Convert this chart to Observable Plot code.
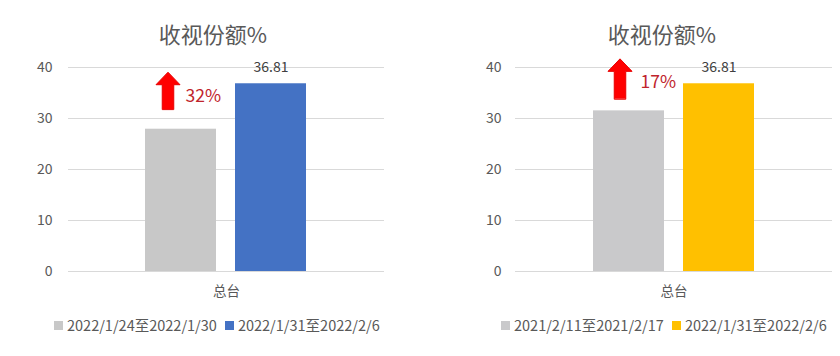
<!DOCTYPE html>
<html><head><meta charset="utf-8">
<script src="https://cdn.jsdelivr.net/npm/d3@7"></script>
<script src="https://cdn.jsdelivr.net/npm/@observablehq/plot@0.6"></script>
<style>
body{margin:0;background:#fff;width:840px;height:356px;overflow:hidden;position:relative;font-family:"Noto Sans CJK SC","Noto Sans",sans-serif}
.panel{position:absolute;top:0;width:420px;height:356px}
.title{position:absolute;top:17px;font-size:22px;color:#595959;transform:translateX(-50%);white-space:nowrap;line-height:32px}
.chart{position:absolute;top:55px;left:0}
.legend{position:absolute;top:315px;font-size:14.5px;color:#595959;display:flex;align-items:center;white-space:nowrap;line-height:20px}
.sw{display:inline-block;width:9px;height:9px;margin-right:4px}
.item{display:flex;align-items:center;margin-right:8px}
.chart svg [aria-label="fx-axis tick label"] text{font-size:13.5px}
</style></head><body>
<script>
const category = "总台";
const chartTitle = "收视份额%";
const leftSeries = ["2022/1/24至2022/1/30", "2022/1/31至2022/2/6"];
const leftValues = [27.9, 36.81];
const rightSeries = ["2021/2/11至2021/2/17", "2022/1/31至2022/2/6"];
const rightValues = [31.5, 36.81];
const yTicks = [0, 10, 20, 30, 40];
const leftColors = ["#c8c8c8", "#4472c4"];
const rightColors = ["#c9c9cb", "#ffc000"];

const fatArrow = {
  draw(ctx, l, r) {
    const hw = r, sw = r * 0.48, hh = 12.5;
    ctx.moveTo(-sw, 0);
    ctx.lineTo(-sw, -l + hh);
    ctx.lineTo(-hw, -l + hh);
    ctx.lineTo(0, -l);
    ctx.lineTo(hw, -l + hh);
    ctx.lineTo(sw, -l + hh);
    ctx.lineTo(sw, 0);
    ctx.closePath();
  }
};

function panel(left, series, values, colors, o) {
  const rows = series.map((s, i) => ({cat: category, series: s, value: values[i]}));
  const base = rows[0], last = rows[rows.length - 1];
  const pct = Math.round((last.value / base.value - 1) * 100) + "%";
  const div = document.createElement("div");
  div.className = "panel";
  div.style.left = left + "px";
  document.body.appendChild(div);

  const t = document.createElement("div");
  t.className = "title";
  t.style.left = o.titleX + "px";
  t.textContent = chartTitle;
  div.appendChild(t);

  const chart = Plot.plot({
    width: 420,
    height: 250,
    marginTop: 12,
    marginBottom: 34,
    marginLeft: o.ml,
    marginRight: o.mr,
    style: {fontSize: "14px", color: "#595959", fontFamily: "'Noto Sans CJK SC','Noto Sans',sans-serif", background: "transparent"},
    y: {domain: [0, 40], ticks: yTicks, tickSize: 0, tickPadding: o.tp, label: null},
    fx: {padding: 0, label: null, tickSize: 0, tickPadding: 15},
    x: {domain: series, paddingInner: 0.211, paddingOuter: 0.861, axis: null},
    color: {domain: series, range: colors},
    marks: [
      Plot.ruleY(yTicks, {stroke: "#d9d9d9", strokeWidth: 1}),
      Plot.barY(rows, {fx: "cat", x: "series", y: "value", fill: "series"}),
      Plot.text([last], {fx: "cat", x: "series", y: "value", text: d => d.value.toFixed(2), dy: -16, fill: "#404040", fontSize: 14}),
      Plot.vector([base], {fx: "cat", x: "series", y: "value", length: o.al, rotate: 0, anchor: "start", shape: fatArrow, r: 12, fill: "#ff0000", stroke: "#e80000", strokeWidth: 1, dx: o.adx, dy: o.ady}),
      Plot.text([base], {fx: "cat", x: "series", y: "value", text: () => pct, textAnchor: "start", dx: o.pdx, dy: o.pdy, fill: "#c0242c", fontSize: 17.5})
    ]
  });
  const c = document.createElement("div");
  c.className = "chart";
  c.appendChild(chart);
  div.appendChild(c);

  const lg = document.createElement("div");
  lg.className = "legend";
  lg.style.left = o.lgX + "px";
  series.forEach((s, i) => {
    const it = document.createElement("span");
    it.className = "item";
    const sw = document.createElement("span");
    sw.className = "sw";
    sw.style.background = colors[i];
    it.appendChild(sw);
    it.appendChild(document.createTextNode(s));
    lg.appendChild(it);
  });
  div.appendChild(lg);
}

panel(0, leftSeries, leftValues, leftColors, {titleX: 213, ml: 68, mr: 36, tp: 16, al: 37, adx: -13, ady: -20, pdx: 4.5, pdy: -33, lgX: 54});
panel(420, rightSeries, rightValues, rightColors, {titleX: 242, ml: 95, mr: 8, tp: 14, al: 40, adx: -9, ady: -12, pdx: 11.5, pdy: -28.5, lgX: 81});
</script>
</body></html>
